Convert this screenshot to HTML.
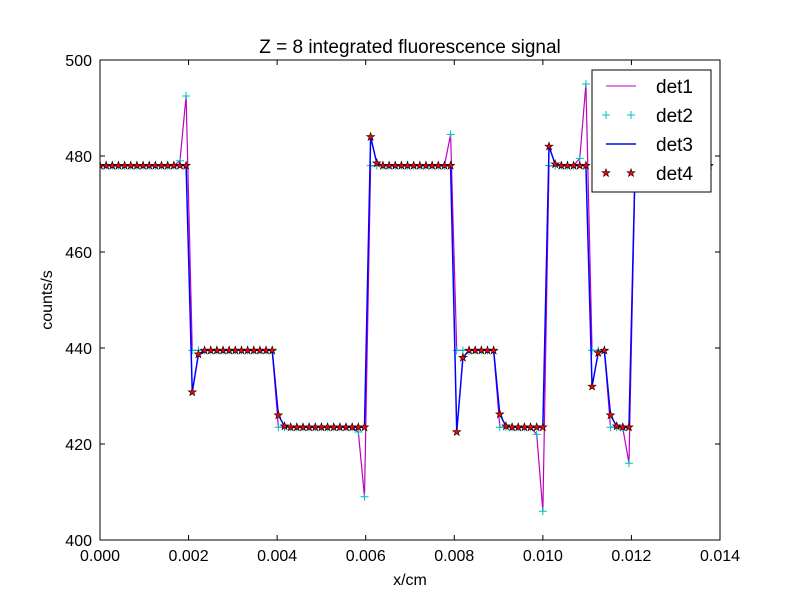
<!DOCTYPE html>
<html><head><meta charset="utf-8"><style>
body{margin:0;background:#fff;}
svg{display:block;font-family:"Liberation Sans","DejaVu Sans",sans-serif;}
</style></head><body>
<svg id="chart" width="800" height="600" xmlns="http://www.w3.org/2000/svg">
<rect width="800" height="600" fill="#fff"/>
<text x="410" y="53" font-size="19" text-anchor="middle">Z = 8 integrated fluorescence signal</text>
<text x="410" y="585" font-size="16" text-anchor="middle">x/cm</text>
<text x="52" y="300" font-size="16" text-anchor="middle" transform="rotate(-90 52 300)">counts/s</text>
<defs><clipPath id="plotclip"><rect x="100" y="60" width="620" height="480"/></clipPath></defs>
<g id="series" clip-path="url(#plotclip)"></g>
<g id="axes"></g>
<g id="legend">
<rect x="592" y="70" width="119" height="122" fill="#fff" stroke="#000" stroke-width="1"/>
<g><line x1="606" y1="86" x2="636" y2="86" stroke="#bf00bf" stroke-width="1"/><text x="656" y="93" font-size="19">det1</text></g>
<g><path d="M602 115h8M606 111v8M627 115h8M631 111v8" stroke="#00bfbf" stroke-width="1"/><text x="656" y="122" font-size="19">det2</text></g>
<g><line x1="606" y1="144" x2="636" y2="144" stroke="#0000ff" stroke-width="1.5"/><text x="656" y="151" font-size="19">det3</text></g>
<g id="leg4"><text x="656" y="180" font-size="19">det4</text></g>
</g>
</svg>
<script>
const N = 100;
const xMax = 0.01375;
const det1 = [478,478,478,478,478,478,478,478,478,478,478,478,478,479,492.5,439.5,439.5,439.5,439.5,439.5,439.5,439.5,439.5,439.5,439.5,439.5,439.5,439.5,439.5,423.5,423.5,423.5,423.5,423.5,423.5,423.5,423.5,423.5,423.5,423.5,423.5,423.5,422.5,409,478,478,478,478,478,478,478,478,478,478,478,478,478,484.5,439.5,439.5,439.5,439.5,439.5,439.5,439.5,423.5,423.5,423.5,423.5,423.5,423.5,422,406,478,478,478,478,478,479.5,495,439.5,439.5,439.5,423.5,423.5,423.3,416,478,478,478,478,478,478,478,478,478,478,478,478,478];
const det2 = det1.slice();
const det3 = [478,478,478,478,478,478,478,478,478,478,478,478,478,478,478,430.8,438.7,439.5,439.5,439.5,439.5,439.5,439.5,439.5,439.5,439.5,439.5,439.5,439.5,426,423.7,423.5,423.5,423.5,423.5,423.5,423.5,423.5,423.5,423.5,423.5,423.5,423.5,423.5,484,478.5,478,478,478,478,478,478,478,478,478,478,478,478,422.5,438,439.5,439.5,439.5,439.5,439.5,426.2,423.7,423.5,423.5,423.5,423.5,423.5,423.5,482,478.3,478,478,478,478,478,432,439,439.5,426,423.7,423.5,423.5,478,478,478,478,478,478,478,478,478,478,478,478,478];
const det4 = det3.slice();
const xTicks = [0,0.002,0.004,0.006,0.008,0.010,0.012,0.014];
const xTickLabels = ["0.000","0.002","0.004","0.006","0.008","0.010","0.012","0.014"];
const yTicks = [400,420,440,460,480,500];

const NS="http://www.w3.org/2000/svg";
const X0=100,X1=720,Y0=540,Y1=60;
function sx(v){return X0+(v-0)/(0.014-0)*(X1-X0);}
function sy(v){return Y0-(v-400)/(500-400)*(Y0-Y1);}
function xv(i){return i*xMax/(N-1);}
function mk(tag,attrs,parent){const e=document.createElementNS(NS,tag);for(const k in attrs)e.setAttribute(k,attrs[k]);parent.appendChild(e);return e;}
function starPath(cx,cy,r){let d="";for(let k=0;k<10;k++){const rr=k%2?r*0.4:r;const a=-Math.PI/2+k*Math.PI/5;d+=(k?"L":"M")+(cx+rr*Math.cos(a)).toFixed(2)+" "+(cy+rr*Math.sin(a)).toFixed(2);}return d+"Z";}
const g=document.getElementById('series');
function pts(arr){return arr.map((v,i)=>sx(xv(i)).toFixed(2)+","+sy(v).toFixed(2)).join(" ");}
const l1=mk('polyline',{points:pts(det1),fill:'none',stroke:'#bf00bf','stroke-width':1.2},g);


det2.forEach((v,i)=>{const cx=sx(xv(i)),cy=sy(v);
 const p=mk('path',{d:`M${cx-4} ${cy}h8M${cx} ${cy-4}v8`,stroke:'#00bfbf','stroke-width':1},g);
 
 });
const l3=mk('polyline',{points:pts(det3),fill:'none',stroke:'#0000ff','stroke-width':1.5},g);


det4.forEach((v,i)=>{const p=mk('path',{d:starPath(sx(xv(i)),sy(v),4.2),fill:'#ff0000',stroke:'#000','stroke-width':0.6},g);
 
 });
const leg4=document.getElementById('leg4');
mk('path',{d:starPath(606,173,4.2),fill:'#ff0000',stroke:'#000','stroke-width':0.6},leg4);
mk('path',{d:starPath(631,173,4.2),fill:'#ff0000',stroke:'#000','stroke-width':0.6},leg4);
const ax=document.getElementById('axes');
mk('rect',{x:X0,y:Y1,width:X1-X0,height:Y0-Y1,fill:'none',stroke:'#000','stroke-width':1},ax);
xTicks.forEach((t,i)=>{const x=sx(t);
 mk('path',{d:`M${x} ${Y0}v-5M${x} ${Y1}v5`,stroke:'#000'},ax);
 const tx=mk('text',{x:x,y:Y0+21,'font-size':16,'text-anchor':'middle'},ax);tx.textContent=xTickLabels[i];
 
 });
yTicks.forEach(t=>{const y=sy(t);
 mk('path',{d:`M${X0} ${y}h5M${X1} ${y}h-5`,stroke:'#000'},ax);
 const tx=mk('text',{x:X0-8,y:y+6,'font-size':16,'text-anchor':'end'},ax);tx.textContent=t;
 
 });
</script>
</body></html>
